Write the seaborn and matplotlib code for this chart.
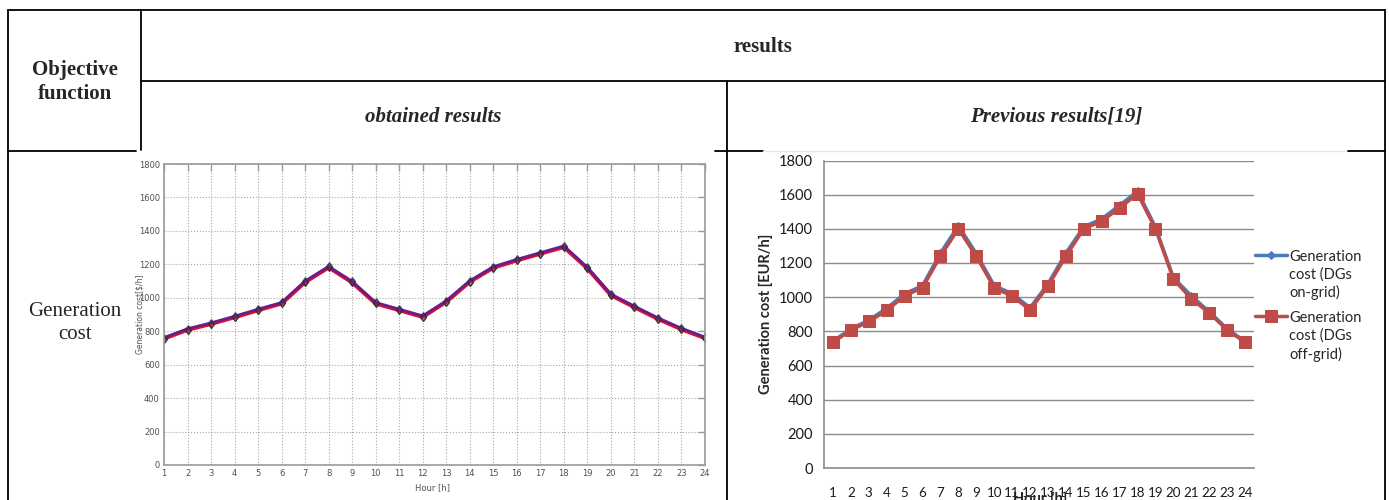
import numpy as np
import pandas as pd
import seaborn as sns
import matplotlib.pyplot as plt
from matplotlib.lines import Line2D

# hours of the day
hours = list(range(1, 25))

# obtained results (left chart), $/h
left_ongrid = [762, 815, 850, 890, 932, 972, 1100, 1188, 1098, 972, 932, 892, 982, 1102, 1186, 1230, 1270, 1310, 1182, 1022, 950, 880, 818, 765]
left_offgrid = [756, 809, 844, 884, 926, 966, 1094, 1182, 1092, 966, 926, 886, 976, 1096, 1180, 1224, 1264, 1304, 1176, 1016, 944, 874, 812, 759]

# previous results [19] (right chart), EUR/h
right_ongrid = [742, 815, 865, 935, 1020, 1068, 1258, 1418, 1255, 1068, 1020, 938, 1078, 1258, 1412, 1458, 1538, 1620, 1410, 1115, 1008, 915, 815, 740]
right_offgrid = [736, 806, 858, 922, 1008, 1056, 1240, 1400, 1240, 1055, 1006, 926, 1064, 1240, 1400, 1445, 1522, 1606, 1400, 1107, 990, 908, 808, 736]

y_ticks = list(range(0, 1801, 200))
legend_labels = ['Generation\ncost (DGs\non-grid)', 'Generation\ncost (DGs\noff-grid)']

W, H = 1389, 500
sns.set_style('white')
plt.rcParams['font.family'] = ['DejaVu Sans']

fig = plt.figure(figsize=(W / 100, H / 100), dpi=100)


def fx(x):
    return x / W


def fy(y):
    return 1 - y / H


def hline(x0, x1, y, color='black', lw=1.3):
    fig.add_artist(Line2D([fx(x0), fx(x1)], [fy(y), fy(y)], transform=fig.transFigure, color=color, lw=lw))


def vline(x, y0, y1, color='black', lw=1.3):
    fig.add_artist(Line2D([fx(x), fx(x)], [fy(y0), fy(y1)], transform=fig.transFigure, color=color, lw=lw))


# table grid
hline(8, 1385, 10)
vline(8, 10, 500)
vline(1385, 10, 500)
vline(141, 10, 150)
hline(141, 1385, 81)
vline(727, 81, 500)
hline(8, 136, 151)
hline(715, 763, 151)
hline(763, 1348, 151, color='#e6e6e6', lw=1)
hline(1348, 1385, 151)

serif = ['Liberation Serif', 'DejaVu Serif']
fig.text(fx(75), fy(82), 'Objective\nfunction', ha='center', va='center', fontsize=15,
         fontweight='bold', family=serif, linespacing=1.3)
fig.text(fx(763), fy(47), 'results', ha='center', va='center', fontsize=15, fontweight='bold', family=serif)
fig.text(fx(433), fy(117), 'obtained results', ha='center', va='center', fontsize=15,
         fontweight='bold', style='italic', family=serif)
fig.text(fx(1056), fy(117), 'Previous results[19]', ha='center', va='center', fontsize=15,
         fontweight='bold', style='italic', family=serif)
fig.text(fx(75), fy(323), 'Generation\ncost', ha='center', va='center', fontsize=15,
         family=serif, linespacing=1.3)

# ---- left chart (obtained results) ----
axl = fig.add_axes([fx(164), fy(465), fx(705) - fx(164), fy(164) - fy(465)])
small = ['Liberation Sans Narrow', 'DejaVu Sans']
sns.lineplot(x=hours, y=left_offgrid, ax=axl, color='#e0102a', lw=3, marker='d', ms=4.5,
             mfc='none', mec='#333333', mew=0.9)
sns.lineplot(x=hours, y=left_ongrid, ax=axl, color='#3020c0', lw=2, alpha=0.65, marker='d', ms=4.5,
             mfc='none', mec='#333333', mew=0.9)
axl.set_xlim(1, 24)
axl.set_ylim(0, 1800)
axl.set_xticks(hours)
axl.set_yticks(y_ticks)
axl.grid(True, linestyle=':', color='#a8a8a8', lw=0.8)
for s in axl.spines.values():
    s.set_color('#9a9a9a')
    s.set_linewidth(1.2)
axl.tick_params(direction='in', top=True, right=True, length=5, width=1, color='#9a9a9a',
                labelsize=6, labelcolor='#505050', pad=3)
for t in axl.get_xticklabels() + axl.get_yticklabels():
    t.set_family(small)
axl.set_xlabel('Hour [h]', fontsize=6, color='#505050', family=small)
axl.set_ylabel('Generation cost[$/h]', fontsize=5.5, color='#505050', family=small)
axl.xaxis.set_label_coords(0.497, -0.06)
axl.yaxis.set_label_coords(-0.036, 0.5)

# ---- right chart (previous results) ----
axr = fig.add_axes([fx(824), fy(468), fx(1254) - fx(824), fy(160.5) - fy(468)])
blue, red = '#4a7ebb', '#be4b48'
sns.lineplot(x=hours, y=right_ongrid, ax=axr, color=blue, lw=2.5, marker='D', ms=4.5,
             mec=blue, label=legend_labels[0])
sns.lineplot(x=hours, y=right_offgrid, ax=axr, color=red, lw=2.5, marker='s', ms=9,
             mec=red, label=legend_labels[1])
axr.set_xlim(0.5, 24.5)
axr.set_ylim(0, 1800)
axr.set_xticks(hours)
axr.set_xticks(np.arange(0.5, 25, 1), minor=True)
axr.set_yticks(y_ticks)
axr.grid(True, axis='y', color='#8c8c8c', lw=1)
axr.grid(False, axis='x')
for side in ['top', 'right']:
    axr.spines[side].set_visible(False)
for side in ['left', 'bottom']:
    axr.spines[side].set_color('#8c8c8c')
    axr.spines[side].set_linewidth(1.2)
cal = ['Lato', 'DejaVu Sans']
axr.tick_params(axis='x', which='major', length=0, pad=14, labelsize=9.6, labelcolor='#1a1a1a')
axr.tick_params(axis='x', which='minor', length=5, width=1, color='#8c8c8c', direction='out')
axr.tick_params(axis='y', length=4, width=1, color='#8c8c8c', direction='out', pad=4,
                labelsize=10.5, labelcolor='#1a1a1a')
for t in axr.get_xticklabels() + axr.get_yticklabels():
    t.set_family(cal)
axr.set_xlabel('Hour [h]', fontsize=10.5, fontweight='bold', family=cal)
axr.set_ylabel('Generation cost [EUR/h]', fontsize=10.5, fontweight='bold', family=cal)
axr.xaxis.set_label_coords(0.502, -0.078)
axr.yaxis.set_label_coords(-0.118, 0.5)

leg = axr.legend(loc='upper left', bbox_to_anchor=(fx(1255), fy(250)), bbox_transform=fig.transFigure,
                 frameon=False, fontsize=10.5, handlelength=2.2, handletextpad=0.15,
                 borderpad=0, borderaxespad=0, labelspacing=0.75)
for t in leg.get_texts():
    t.set_family(cal)
    t.set_linespacing(1.3)
# put each legend marker level with the first line of its label
for col in leg._legend_handle_box.get_children():
    for item in col.get_children():
        item.align = 'top'

fig.savefig('out.png', dpi=100)
